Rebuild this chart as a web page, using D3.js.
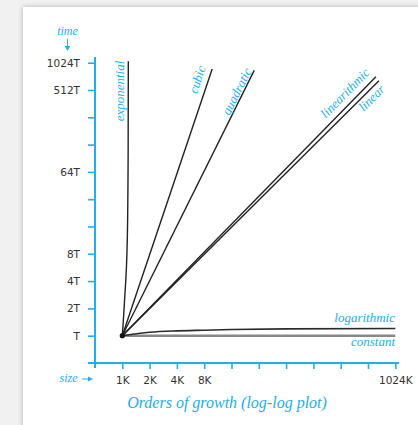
<!DOCTYPE html>
<html>
<head>
<meta charset="utf-8">
<script src="https://cdn.jsdelivr.net/npm/d3@7"></script>
<style>
  html, body { margin: 0; padding: 0; background: #f1f1f1; width: 418px; height: 425px; overflow: hidden; }
  #card { position: absolute; left: 23px; top: 7px; width: 460px; height: 460px; background: #fff;
          box-shadow: 0 0 5px rgba(0,0,0,0.28); }
  svg { position: absolute; left: 0; top: 0; }
</style>
</head>
<body>
<div id="card"></div>
<svg id="chart" width="418" height="425"></svg>
<script>
// Problem size in K, running time in multiples of T
const sizeTicks = [1, 2, 4, 8, 16, 32, 64, 128, 256, 512, 1024];
const sizeLabels = ["1K", "2K", "4K", "8K", "", "", "", "", "", "", "1024K"];
const timeTicks = [1, 2, 4, 8, 16, 32, 64, 128, 256, 512, 1024];
const timeLabels = ["T", "2T", "4T", "8T", "", "", "64T", "", "", "512T", "1024T"];

const constantN = [1, 1024];
const constantT = [1, 1];
const logarithmicN = [1, 2, 4, 8, 16, 64, 1024];
const logarithmicT = [1, 1.09, 1.13, 1.15, 1.17, 1.19, 1.2];
const linearN = [1, 676];
const linearT = [1, 648];
const linearithmicN = [1, 626];
const linearithmicT = [1, 718];
const quadraticN = [1, 28.5];
const quadraticT = [1, 843];
const cubicN = [1, 9.8];
const cubicT = [1, 873];
const exponentialN = [1, 1.06, 1.135, 1.16, 1.165];
const exponentialT = [1, 2.5, 11.4, 100, 1060];

const blue = "#22aee8";
const svg = d3.select("#chart");

const x = d3.scaleLog().base(2).domain([0.5, 1024]).range([95, 395.3]);
const y = d3.scaleLog().base(2).domain([0.5, 1024]).range([363, 62.7]);

// axes
const xAxis = d3.axisBottom(x).tickValues(sizeTicks)
  .tickFormat((d, i) => sizeLabels[i]).tickSize(6).tickPadding(8).tickSizeOuter(0);
const yAxis = d3.axisLeft(y).tickValues(timeTicks)
  .tickFormat((d, i) => timeLabels[i]).tickSize(7).tickPadding(8).tickSizeOuter(0);

const gx = svg.append("g").attr("transform", `translate(0,${y(0.5)})`).call(xAxis);
const gy = svg.append("g").attr("transform", `translate(${x(0.5)},0)`).call(yAxis);
[gx, gy].forEach(g => {
  g.select(".domain").remove();
  g.selectAll(".tick line").attr("stroke", blue).attr("stroke-width", 1.6);
  g.selectAll(".tick text").attr("fill", "#333")
    .style("font-family", "'DejaVu Sans', sans-serif").style("font-size", "10.5px");
});
// axis lines, overhanging where they cross
svg.append("line").attr("x1", 88).attr("x2", 399).attr("y1", y(0.5)).attr("y2", y(0.5))
  .attr("stroke", blue).attr("stroke-width", 2);
svg.append("line").attr("x1", x(0.5)).attr("x2", x(0.5)).attr("y1", 57).attr("y2", 368)
  .attr("stroke", blue).attr("stroke-width", 2);

// growth curves
const line = d3.line().x(d => x(d[0])).y(d => y(d[1])).curve(d3.curveMonotoneX);
const series = [
  { n: constantN, t: constantT, color: "#888", w: 2.4 },
  { n: logarithmicN, t: logarithmicT, color: "#2a2a2a", w: 1.6 },
  { n: linearN, t: linearT, color: "#222", w: 1.4 },
  { n: linearithmicN, t: linearithmicT, color: "#222", w: 1.4 },
  { n: quadraticN, t: quadraticT, color: "#222", w: 1.4 },
  { n: cubicN, t: cubicT, color: "#222", w: 1.4 },
  { n: exponentialN, t: exponentialT, color: "#222", w: 1.4 }
];
series.forEach(s => {
  svg.append("path").datum(s.n.map((v, i) => [v, s.t[i]]))
    .attr("d", line).attr("fill", "none").attr("stroke", s.color).attr("stroke-width", s.w);
});
svg.append("circle").attr("cx", x(1)).attr("cy", y(1)).attr("r", 2.6).attr("fill", "#111");

// curve names
const labelFont = "'Liberation Serif', serif";
const names = [
  { text: "exponential", cx: 121, cy: 91, rot: -90, anchor: "middle" },
  { text: "cubic", cx: 198.5, cy: 80, rot: -71.6, anchor: "middle" },
  { text: "quadratic", cx: 238, cy: 92, rot: -63.4, anchor: "middle" },
  { text: "linearithmic", cx: 346, cy: 94, rot: -45.5, anchor: "middle" },
  { text: "linear", cx: 372.5, cy: 99, rot: -45, anchor: "middle" },
  { text: "logarithmic", cx: 395, cy: 319, rot: 0, anchor: "end" },
  { text: "constant", cx: 395, cy: 343, rot: 0, anchor: "end" }
];
names.forEach(l => {
  svg.append("text").attr("transform", `translate(${l.cx},${l.cy}) rotate(${l.rot})`)
    .attr("text-anchor", l.anchor).attr("dominant-baseline", "middle")
    .attr("fill", blue).style("font-family", labelFont).style("font-style", "italic")
    .style("font-size", "13px").text(l.text);
});

// axis captions with arrows
svg.append("text").attr("x", 67.5).attr("y", 35).attr("text-anchor", "middle")
  .attr("fill", blue).style("font-family", labelFont).style("font-style", "italic")
  .style("font-size", "12px").text("time");
svg.append("line").attr("x1", 67.5).attr("x2", 67.5).attr("y1", 39).attr("y2", 48)
  .attr("stroke", blue).attr("stroke-width", 1);
svg.append("path").attr("d", "M64.8,46 L67.5,51 L70.2,46 Z").attr("fill", blue);

svg.append("text").attr("x", 77.5).attr("y", 382).attr("text-anchor", "end")
  .attr("fill", blue).style("font-family", labelFont).style("font-style", "italic")
  .style("font-size", "12px").text("size");
svg.append("line").attr("x1", 82).attr("x2", 90).attr("y1", 379).attr("y2", 379)
  .attr("stroke", blue).attr("stroke-width", 1);
svg.append("path").attr("d", "M88,376.5 L93,379 L88,381.5 Z").attr("fill", blue);

svg.append("text").attr("x", 227).attr("y", 408).attr("text-anchor", "middle")
  .attr("fill", blue).style("font-family", labelFont).style("font-style", "italic")
  .style("font-size", "16px").text("Orders of growth (log-log plot)");
</script>
</body>
</html>
